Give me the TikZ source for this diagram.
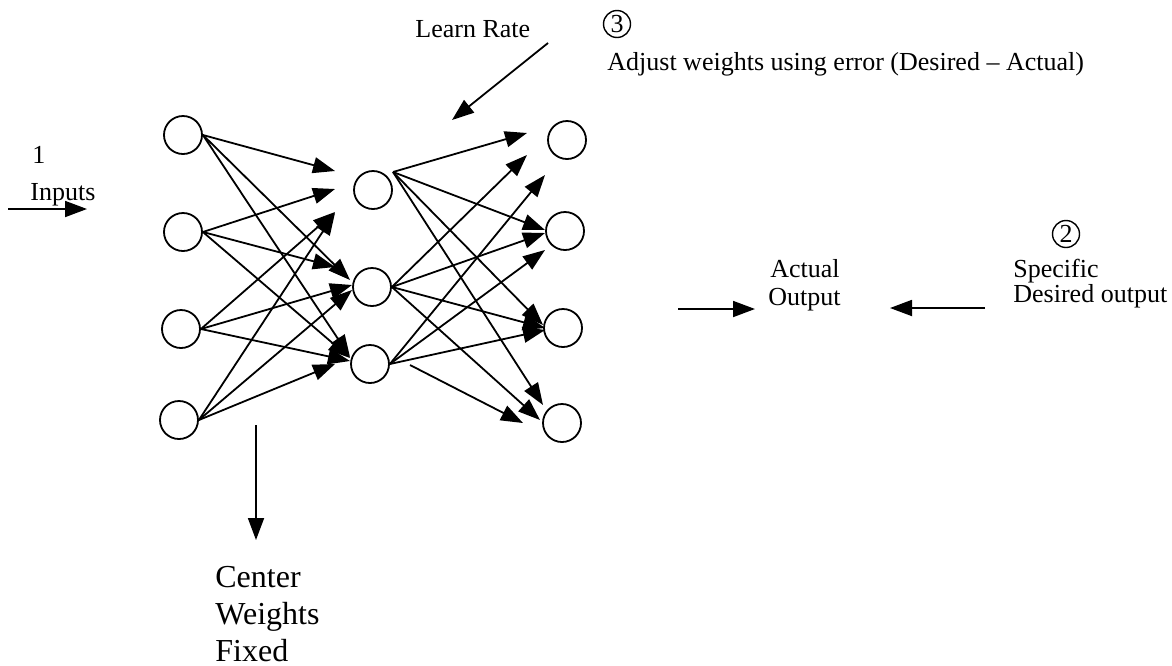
\documentclass[tikz,border=0pt]{standalone}
\usepackage{fontspec}
\setmainfont{Liberation Serif}
\usetikzlibrary{arrows.meta}

\tikzset{
  unit/.style={draw, circle, line width=0.9pt, minimum size=19pt, inner sep=0pt},
  wire/.style={line width=0.9pt, -{Triangle[length=11pt,width=8pt]}},
  txt/.style={anchor=base west, inner sep=0pt, font=\fontsize{13}{15}\selectfont},
  bigtxt/.style={anchor=base west, inner sep=0pt, font=\fontsize{16}{18}\selectfont},
  stepmark/.style={draw, circle, line width=0.7pt, minimum size=13.5pt, inner sep=0pt, font=\fontsize{13}{15}\selectfont}
}

\begin{document}
\begin{tikzpicture}[x=0.5pt, y=-0.5pt]
\useasboundingbox (0,0) rectangle (1172,665);

% input layer
\node [unit] (i1) at (183,135) {};
\node [unit] (i2) at (183,232) {};
\node [unit] (i3) at (181,329) {};
\node [unit] (i4) at (179,420) {};
% hidden layer
\node [unit] (h1) at (373,190) {};
\node [unit] (h2) at (372,287) {};
\node [unit] (h3) at (370,364) {};
% output layer
\node [unit] (o1) at (567,140) {};
\node [unit] (o2) at (565,231) {};
\node [unit] (o3) at (563,328) {};
\node [unit] (o4) at (562,423) {};

% arrow ends in front of the hidden layer
\coordinate (t11) at (335,171);
\coordinate (t12) at (350,280);
\coordinate (t13) at (350,357);
\coordinate (t21) at (335,189);
\coordinate (t22) at (335,267);
\coordinate (t23) at (350,358);
\coordinate (t31) at (335,212);
\coordinate (t32) at (352,285);
\coordinate (t33) at (350,361);
\coordinate (t41) at (335,213);
\coordinate (t42) at (352,290);
\coordinate (t43) at (335,364);

\draw [wire] (i1.east) -- (t11);
\draw [wire] (i1.east) -- (t12);
\draw [wire] (i1.east) -- (t13);
\draw [wire] (i2.east) -- (t21);
\draw [wire] (i2.east) -- (t22);
\draw [wire] (i2.east) -- (t23);
\draw [wire] (i3.east) -- (t31);
\draw [wire] (i3.east) -- (t32);
\draw [wire] (i3.east) -- (t33);
\draw [wire] (i4.east) -- (t41);
\draw [wire] (i4.east) -- (t42);
\draw [wire] (i4.east) -- (t43);

% arrow ends in front of the output layer
\coordinate (h1out) at (393,172);
\coordinate (h3out) at (410,365);
\coordinate (u11) at (527,133);
\coordinate (u12) at (545,230);
\coordinate (u13) at (543,325);
\coordinate (u14) at (543,405);
\coordinate (u21) at (527,155);
\coordinate (u22) at (545,233);
\coordinate (u23) at (545,328);
\coordinate (u24) at (540,420);
\coordinate (u31) at (545,175);
\coordinate (u32) at (545,250);
\coordinate (u33) at (545,330);
\coordinate (u34) at (523,423);

\draw [wire] (h1out) -- (u11);
\draw [wire] (h1out) -- (u12);
\draw [wire] (h1out) -- (u13);
\draw [wire] (h1out) -- (u14);
\draw [wire] (h2.east) -- (u21);
\draw [wire] (h2.east) -- (u22);
\draw [wire] (h2.east) -- (u23);
\draw [wire] (h2.east) -- (u24);
\draw [wire] (h3.east) -- (u31);
\draw [wire] (h3.east) -- (u32);
\draw [wire] (h3.east) -- (u33);
\draw [wire] (h3out) -- (u34);

% step 1
\node [txt] (one) at (32,163) {1};
\node [txt] (inputs) at (30,200) {Inputs};
\coordinate (inA) at (8,209);
\coordinate (inB) at (87,209);
\draw [wire] (inA) -- (inB);

% step 3
\node [txt] (learn) at (415,37) {Learn Rate};
\coordinate (lrA) at (548,43);
\coordinate (lrB) at (452,120);
\draw [wire] (lrA) -- (lrB);
\node [stepmark] (three) at (617,24) {3};
\node [txt] (adjust) at (607,70) {Adjust weights using error (Desired -- Actual)};

% step 2
\node [txt] (actual) at (770,277) {Actual};
\node [txt] (output) at (768,305) {Output};
\coordinate (acA) at (678,309);
\coordinate (acB) at (755,309);
\draw [wire] (acA) -- (acB);
\node [stepmark] (two) at (1066,234) {2};
\node [txt] (specific) at (1013,277) {Specific};
\node [txt] (desired) at (1013,302) {Desired output};
\coordinate (deA) at (985,308);
\coordinate (deB) at (890,308);
\draw [wire] (deA) -- (deB);

% fixed centre weights
\coordinate (cwA) at (256,425);
\coordinate (cwB) at (256,540);
\draw [wire] (cwA) -- (cwB);
\node [bigtxt] (center) at (215,587) {Center};
\node [bigtxt] (weights) at (215,624) {Weights};
\node [bigtxt] (fixed) at (215,661) {Fixed};
\end{tikzpicture}
\end{document}
